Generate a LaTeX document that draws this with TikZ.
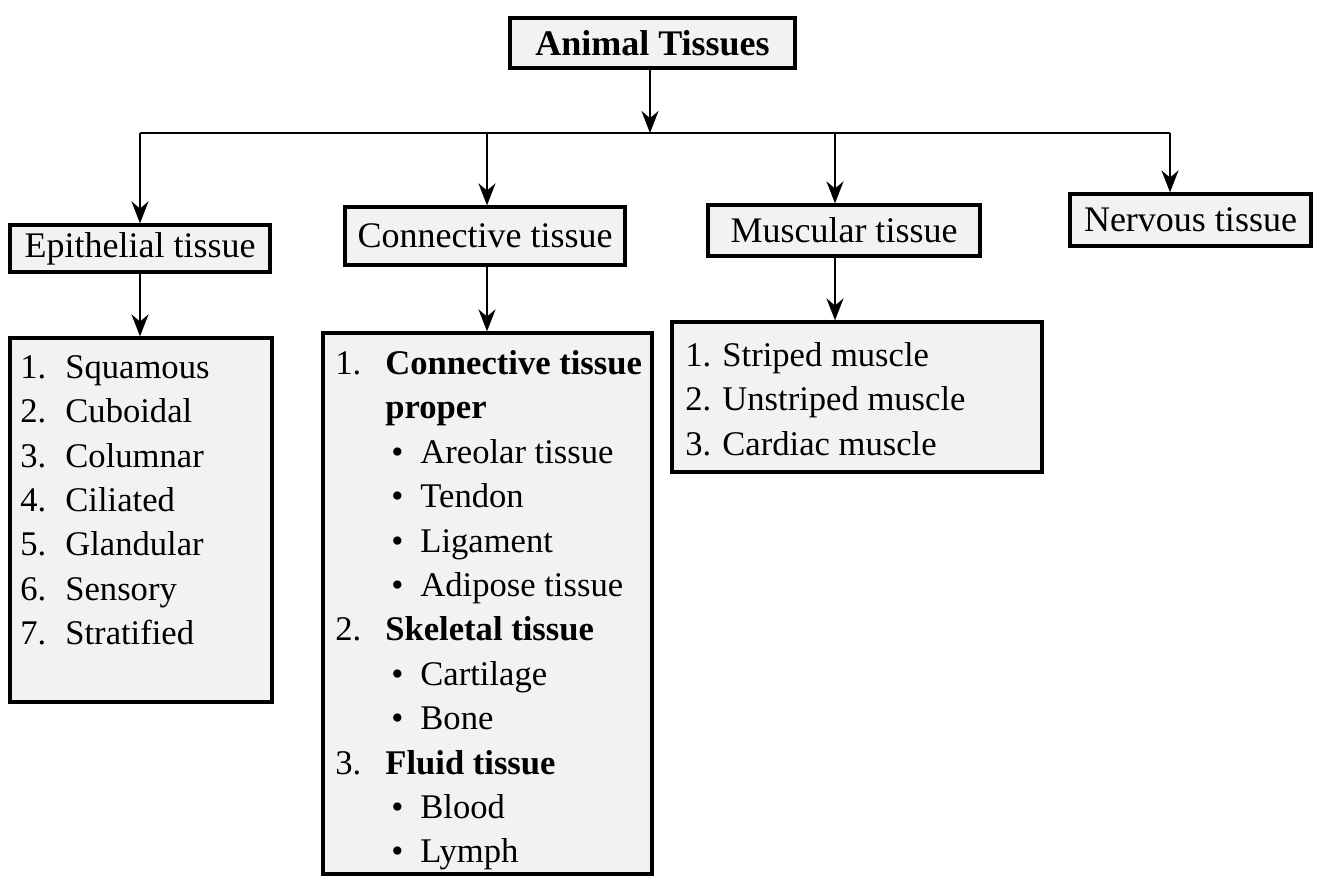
\documentclass[tikz,border=0pt]{standalone}
\usepackage{fontspec}
\setmainfont{Liberation Serif}
\usetikzlibrary{arrows.meta,fit}
\begin{document}
\begin{tikzpicture}[x=0.5pt,y=-0.5pt,
  box/.style={draw, line width=1.6pt, fill=black!5, inner sep=0pt},
  lbl/.style={font=\fontsize{18}{22}\selectfont, inner sep=0pt},
  lst/.style={font=\fontsize{17.3}{22.2}\selectfont, inner sep=0pt, align=left, anchor=north west},
  arr/.style={line width=1.2pt, -{Stealth[length=11pt,width=8.5pt]}},
]
\useasboundingbox (0,0) rectangle (1318,877);
% title boxes
\node[box, fit={(510,18) (795,68)}] (top) {};
\node[lbl, font=\fontsize{18}{22}\selectfont\bfseries] (toptxt) at (top.center) {Animal Tissues};
\node[box, fit={(10,225) (270,272)}] (epi) {};
\node[lbl] (epitxt) at (epi.center) {Epithelial tissue};
\node[box, fit={(345,207) (625,265)}] (con) {};
\node[lbl] (context) at (con.center) {Connective tissue};
\node[box, fit={(708,205) (980,256)}] (mus) {};
\node[lbl] (mustxt) at (mus.center) {Muscular tissue};
\node[box, fit={(1070,194) (1311,246)}] (ner) {};
\node[lbl] (nertxt) at (ner.center) {Nervous tissue};
% list boxes
\node[box, fit={(10,338) (272,702)}] (epil) {};
\node[lst] (epiltxt) at (20,355) {%
\makebox[22.5pt][l]{1.}Squamous\\
\makebox[22.5pt][l]{2.}Cuboidal\\
\makebox[22.5pt][l]{3.}Columnar\\
\makebox[22.5pt][l]{4.}Ciliated\\
\makebox[22.5pt][l]{5.}Glandular\\
\makebox[22.5pt][l]{6.}Sensory\\
\makebox[22.5pt][l]{7.}Stratified};
\node[box, fit={(323,333) (652,874)}] (conl) {};
\node[lst] (conltxt) at (335,350) {%
\makebox[25pt][l]{1.}\textbf{Connective tissue}\\
\makebox[25pt][l]{}\textbf{proper}\\
\makebox[42.5pt][l]{\hspace{28pt}\textbullet}Areolar tissue\\
\makebox[42.5pt][l]{\hspace{28pt}\textbullet}Tendon\\
\makebox[42.5pt][l]{\hspace{28pt}\textbullet}Ligament\\
\makebox[42.5pt][l]{\hspace{28pt}\textbullet}Adipose tissue\\
\makebox[25pt][l]{2.}\textbf{Skeletal tissue}\\
\makebox[42.5pt][l]{\hspace{28pt}\textbullet}Cartilage\\
\makebox[42.5pt][l]{\hspace{28pt}\textbullet}Bone\\
\makebox[25pt][l]{3.}\textbf{Fluid tissue}\\
\makebox[42.5pt][l]{\hspace{28pt}\textbullet}Blood\\
\makebox[42.5pt][l]{\hspace{28pt}\textbullet}Lymph};
\node[box, fit={(672,322) (1042,472)}] (musl) {};
\node[lst] (musltxt) at (685,342) {%
\makebox[18.5pt][l]{1.}Striped muscle\\
\makebox[18.5pt][l]{2.}Unstriped muscle\\
\makebox[18.5pt][l]{3.}Cardiac muscle};
% connectors
\coordinate (j) at (650,133);
\coordinate (hl) at (140,133);
\coordinate (hc) at (487,133);
\coordinate (hm) at (835,133);
\coordinate (hr) at (1170,133);
\draw[arr] (top.south -| j) -- (j);
\draw[line width=1.2pt] (hl) -- (hr);
\draw[arr] (hl) -- (hl |- epi.north);
\draw[arr] (hc) -- (hc |- con.north);
\draw[arr] (hm) -- (hm |- mus.north);
\draw[arr] (hr) -- (hr |- ner.north);
\draw[arr] (epi.south -| hl) -- (hl |- epil.north);
\draw[arr] (con.south -| hc) -- (hc |- conl.north);
\draw[arr] (mus.south -| hm) -- (hm |- musl.north);
\end{tikzpicture}
\end{document}
